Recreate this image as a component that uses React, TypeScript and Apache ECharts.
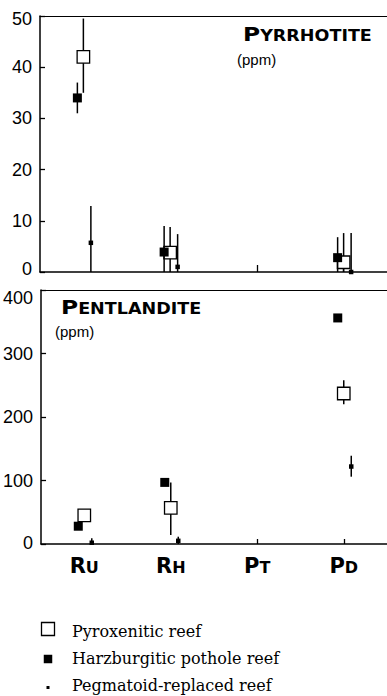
import React, { useEffect, useRef } from 'react';
import * as echarts from 'echarts';

// ---- data ----
const categories = ['Ru', 'Rh', 'Pt', 'Pd'];

// [value, low, high] per category; null = not analysed; low/high null = no error bar
const pyrrhotitePyroxenitic = [[42, 35, 49.5], [3.8, 0, 8.8], null, [1.9, 0, 7.6]];
const pyrrhotiteHarzburgitic = [[34, 31, 37], [3.9, 0, 9], null, [2.8, 0, 6.8]];
const pyrrhotitePegmatoid = [[5.7, 0, 12.9], [1.0, 0, 7.4], null, [0, 0, 7.6]];

const pentlanditePyroxenitic = [[45, null, null], [57, 14, 97], null, [237, 220, 258]];
const pentlanditeHarzburgitic = [[28, null, null], [97, null, null], null, [356, null, null]];
const pentlanditePegmatoid = [[2, 0, 9], [5, 0, 11.5], null, [122, 106, 139]];

const pyrrhotiteTicks = { min: 0, max: 50, interval: 10 };
const pentlanditeTicks = { min: 0, max: 400, interval: 100 };

const legendLabels = ['Pyroxenitic reef', 'Harzburgitic pothole reef', 'Pegmatoid-replaced reef'];

// ---- styles ----
const MARK = {
  open: { size: 12.5, fill: '#fff', stroke: '#000', lineWidth: 1.3, dx: 0 },
  filled: { size: 9, fill: '#000', stroke: null, lineWidth: 0, dx: -6 },
  small: { size: 4.5, fill: '#000', stroke: null, lineWidth: 0, dx: 7.5 },
};

function toData(arr: any[]) {
  const out: any[] = [];
  arr.forEach((d, i) => {
    if (!d) return;
    const lo = d[1] == null ? d[0] : d[1];
    const hi = d[2] == null ? d[0] : d[2];
    out.push([i, d[0], lo, hi]);
  });
  return out;
}

function makeSeries(arr: any[], gridIdx: number, kind: keyof typeof MARK) {
  const m = MARK[kind];
  return {
    type: 'custom',
    xAxisIndex: gridIdx,
    yAxisIndex: gridIdx,
    clip: false,
    data: toData(arr),
    renderItem: (params: any, api: any) => {
      const x = api.value(0);
      const y = api.value(1);
      const lo = api.value(2);
      const hi = api.value(3);
      const c = api.coord([x, y]);
      const cx = c[0] + m.dx;
      const children: any[] = [];
      if (hi - lo > 0) {
        const p1 = api.coord([x, lo]);
        const p2 = api.coord([x, hi]);
        children.push({
          type: 'line',
          shape: { x1: cx, y1: p1[1], x2: cx, y2: p2[1] },
          style: { stroke: '#000', lineWidth: 1.5 },
        });
      }
      children.push({
        type: 'rect',
        shape: { x: cx - m.size / 2, y: c[1] - m.size / 2, width: m.size, height: m.size },
        style: { fill: m.fill, stroke: m.stroke, lineWidth: m.lineWidth },
      });
      return { type: 'group', children };
    },
  };
}

const SANS = '"Liberation Sans", Arial, sans-serif';
const BOLD = '"DejaVu Sans", sans-serif';
const SERIF = '"DejaVu Serif", serif';

function yAxis(gridIndex: number, t: any, downTop: number, upBottom: number) {
  const base = { fontSize: 18, fontFamily: SANS, color: '#000' };
  return {
    type: 'value',
    gridIndex,
    min: t.min,
    max: t.max,
    interval: t.interval,
    axisLine: { show: true, lineStyle: { color: '#000', width: 1.5 } },
    axisTick: { show: true, inside: true, length: 5, lineStyle: { color: '#000', width: 1.3 } },
    splitLine: { show: false },
    axisLabel: {
      margin: 8,
      formatter: (v: number) => (v === t.max ? `{hi|${v}}` : v === t.min ? `{lo|${v}}` : `{n|${v}}`),
      rich: {
        n: { ...base },
        hi: { ...base, padding: [downTop * 2, 0, 0, 0] },
        lo: { ...base, padding: [0, 0, upBottom * 2, 0] },
      },
    },
  };
}

function xAxis(gridIndex: number, showLabels: boolean, tickLen: number) {
  return {
    type: 'category',
    gridIndex,
    data: categories,
    boundaryGap: true,
    axisLine: { show: true, lineStyle: { color: '#000', width: 1.5 } },
    axisTick: {
      show: true,
      inside: true,
      alignWithLabel: true,
      interval: (i: number) => i >= 2,
      length: tickLen,
      lineStyle: { color: '#000', width: 1.3 },
    },
    axisLabel: {
      show: showLabels,
      margin: 11,
      formatter: (v: string) => `{a|${v[0].toUpperCase()}}{b|${v.slice(1).toUpperCase()}}`,
      rich: {
        a: { fontSize: 21, fontWeight: 'bold', fontFamily: BOLD, color: '#000', lineHeight: 21 },
        b: { fontSize: 16, fontWeight: 'bold', fontFamily: BOLD, color: '#000', lineHeight: 21, padding: [3.6, 0, 0, 0] },
      },
    },
  };
}

function topBorder(gridIndex: number) {
  return {
    type: 'category',
    gridIndex,
    position: 'top',
    data: categories,
    axisLine: { show: true, lineStyle: { color: '#000', width: 1 } },
    axisTick: { show: false },
    axisLabel: { show: false },
  };
}

function titleText(x: number, y: number, big: string, rest: string) {
  return {
    type: 'text',
    x,
    y,
    scaleX: 1.17,
    style: {
      text: `{a|${big}}{b|${rest}}`,
      align: 'left',
      verticalAlign: 'middle',
      rich: {
        a: { fontSize: 20, fontWeight: 'bold', fontFamily: BOLD, fill: '#000', lineHeight: 20 },
        b: { fontSize: 15, fontWeight: 'bold', fontFamily: BOLD, fill: '#000', lineHeight: 20, padding: [3.4, 0, 0, 0] },
      },
    },
  };
}

function ppmText(x: number, y: number) {
  return {
    type: 'text',
    x,
    y,
    style: { text: '(ppm)', fontSize: 15, fontFamily: SANS, fill: '#000', align: 'left', verticalAlign: 'middle' },
  };
}

export default function App() {
  const ref = useRef<HTMLDivElement>(null);
  useEffect(() => {
    if (!ref.current) return;
    const chart = echarts.init(ref.current, null, { renderer: 'svg' });
    const legendY = [631, 658.5, 685];
    const legendSym = [
      { size: 13, fill: '#fff', stroke: '#000', lw: 1.3, cy: 629 },
      { size: 8.5, fill: '#000', stroke: null, lw: 0, cy: 659 },
      { size: 3, fill: '#000', stroke: null, lw: 0, cy: 687.5 },
    ];
    const graphic: any[] = [
      titleText(243, 34, 'P', 'YRRHOTITE'),
      ppmText(237, 59),
      titleText(61, 307.5, 'P', 'ENTLANDITE'),
      ppmText(55, 331),
    ];
    legendLabels.forEach((lab, i) => {
      const s = legendSym[i];
      graphic.push({
        type: 'rect',
        shape: { x: 48 - s.size / 2, y: s.cy - s.size / 2, width: s.size, height: s.size },
        style: { fill: s.fill, stroke: s.stroke, lineWidth: s.lw },
      });
      graphic.push({
        type: 'text',
        x: 72,
        y: legendY[i],
        style: { text: lab, fontSize: 16, fontFamily: SERIF, fill: '#000', align: 'left', verticalAlign: 'middle' },
      });
    });

    chart.setOption({
      animation: false,
      backgroundColor: '#fff',
      grid: [
        { left: 40, right: -4, top: 16, height: 256 },
        { left: 40, right: -4, top: 290, height: 254 },
      ],
      xAxis: [xAxis(0, false, 7), xAxis(1, true, 5), topBorder(0), topBorder(1)],
      yAxis: [yAxis(0, pyrrhotiteTicks, 3, 3.5), yAxis(1, pentlanditeTicks, 7.5, 1.5)],
      series: [
        makeSeries(pyrrhotitePyroxenitic, 0, 'open'),
        makeSeries(pyrrhotiteHarzburgitic, 0, 'filled'),
        makeSeries(pyrrhotitePegmatoid, 0, 'small'),
        makeSeries(pentlanditePyroxenitic, 1, 'open'),
        makeSeries(pentlanditeHarzburgitic, 1, 'filled'),
        makeSeries(pentlanditePegmatoid, 1, 'small'),
      ],
      graphic,
    });
    return () => chart.dispose();
  }, []);
  return (
    <div
      ref={ref}
      style={{ position: 'absolute', left: 0, top: 0, width: 387, height: 696 }}
    />
  );
}
